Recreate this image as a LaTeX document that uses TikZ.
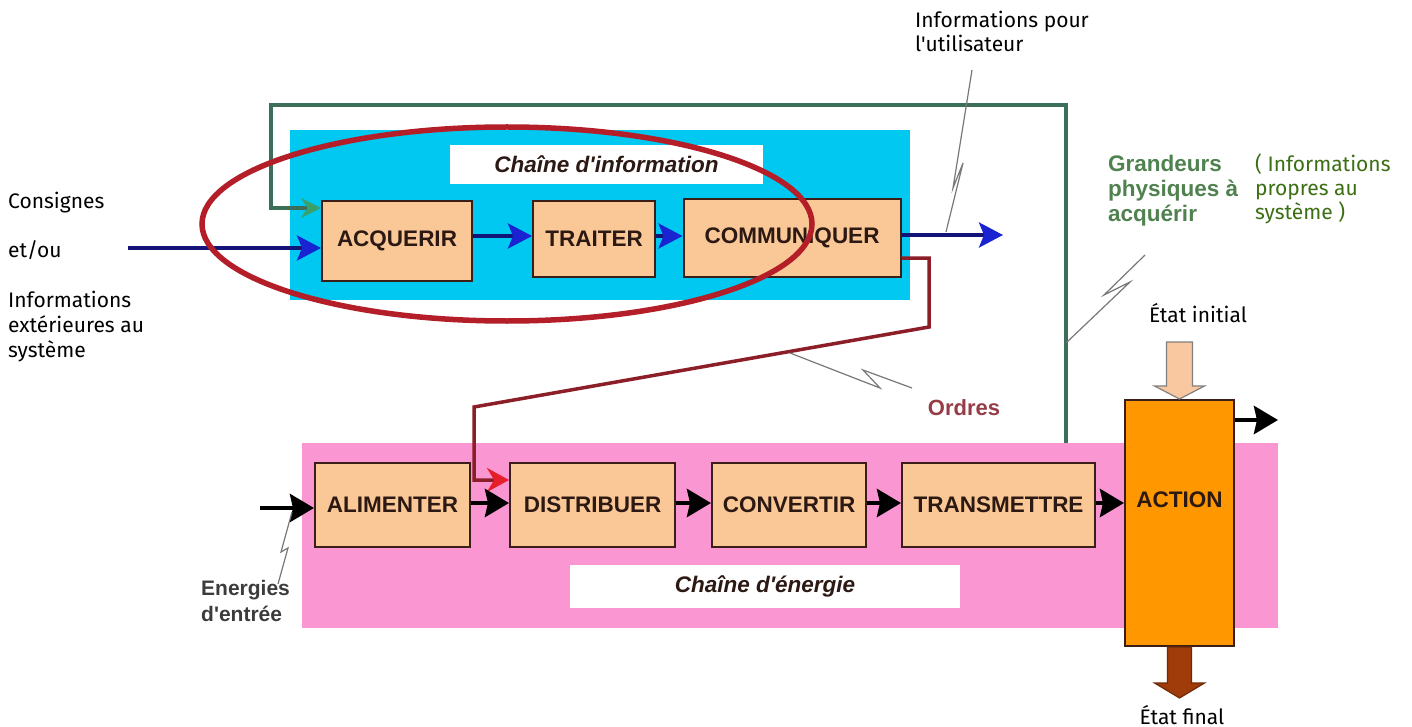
\documentclass[tikz,border=0pt]{standalone}
\usepackage{fontspec}
\setmainfont{Fira Sans}[Ligatures=TeXOff]
\newfontfamily\arb{Liberation Sans}
\usetikzlibrary{arrows.meta,calc}
\definecolor{cyanbg}{RGB}{0,200,240}
\definecolor{pinkbg}{RGB}{250,150,210}
\definecolor{peach}{RGB}{250,200,150}
\definecolor{actor}{RGB}{255,152,0}
\definecolor{boxline}{RGB}{60,30,25}
\definecolor{txtdark}{RGB}{45,25,20}
\definecolor{navy}{RGB}{20,20,120}
\definecolor{tipblue}{RGB}{25,35,210}
\definecolor{grnline}{RGB}{60,110,90}
\definecolor{grntip}{RGB}{60,160,110}
\definecolor{ellred}{RGB}{180,30,40}
\definecolor{ordred}{RGB}{140,30,40}
\definecolor{tipred}{RGB}{230,30,40}
\definecolor{boltgray}{RGB}{120,120,120}
\definecolor{grandg}{RGB}{80,130,80}
\definecolor{propg}{RGB}{60,110,20}
\definecolor{ordtxt}{RGB}{150,60,70}
\definecolor{enertxt}{RGB}{60,60,60}
\definecolor{inpeach}{RGB}{250,200,160}
\definecolor{finbrown}{RGB}{160,60,10}
\begin{document}
\begin{tikzpicture}[x=1pt,y=-1pt,
  fb/.style={draw=boxline, line width=2pt, fill=peach, text=txtdark,
    font=\arb\bfseries\fontsize{22.5}{26}\selectfont, inner sep=0pt},
  lbl/.style={fill=white, text=txtdark, inner sep=0pt,
    font=\arb\bfseries\itshape\fontsize{22.5}{26}\selectfont},
  annot/.style={font=\fontsize{21}{25}\selectfont, text=black, align=left, inner sep=0pt},
  blu/.style={draw=navy, line width=3.5pt, -{Stealth[length=24pt,width=25pt,inset=5pt,color=tipblue]}},
  blk/.style={draw=black, line width=4.5pt, -{Stealth[length=24pt,width=28pt,inset=3pt]}},
  grn/.style={draw=grnline, line width=3.5pt, -{Stealth[length=20pt,width=20pt,color=grntip]}},
  ordl/.style={draw=ordred, line width=3.5pt, -{Stealth[length=22pt,width=24pt,color=tipred]}},
  bolt/.style={draw=boltgray, line width=1.2pt},
  ell/.style={draw=ellred, line width=5.5pt}
]
\useasboundingbox (0,0) rectangle (1412,727);
\fill[white] (0,0) rectangle (1412,727);

% backgrounds
\node[fill=pinkbg, minimum width=976, minimum height=185, inner sep=0pt] (pink) at (790,535.5) {};
\node[fill=cyanbg, minimum width=620, minimum height=170, inner sep=0pt] (cyan) at (600,215) {};
\node[lbl, minimum width=313, minimum height=39] (cinfo) at (606.5,164.5) {Chaîne d'information};
\node[lbl, minimum width=390, minimum height=43] (cener) at (765,586.5) {Chaîne d'énergie};

% information chain boxes
\node[fb, minimum width=150, minimum height=80] (acq) at (397,241) {ACQUERIR};
\node[fb, minimum width=122, minimum height=75] (tra) at (594,239) {TRAITER};
\node[fb, minimum width=217, minimum height=77] (com) at (792,238) {COMMUNIQUER};

% energy chain boxes
\node[fb, minimum width=155, minimum height=84] (ali) at (392.5,505) {ALIMENTER};
\node[fb, minimum width=165, minimum height=84] (dis) at (592.5,505) {DISTRIBUER};
\node[fb, minimum width=154, minimum height=84] (con) at (789,505) {CONVERTIR};
\node[fb, minimum width=193, minimum height=84] (trm) at (998.5,505) {TRANSMETTRE};
\node[fb, fill=actor, minimum width=109, minimum height=246,
  label={[font=\arb\bfseries\fontsize{22.5}{26}\selectfont, text=txtdark, yshift=23pt]center:ACTION}] (act) at (1179.5,523) {};

% green feedback
\coordinate (gtr) at (1066,105);
\coordinate (gtl) at (271,105);
\coordinate (gbl) at (271,208);
\draw[grn] (pink.north -| gtr) -- (gtr) -- (gtl) -- (gbl) -- (acq.west |- gbl);

% blue information arrows
\coordinate (bin) at (128,248);
\coordinate (bout) at (1003,235);
\draw[blu] (bin) -- (acq.west |- bin);
\draw[blu] (acq.east |- 0,236) -- (tra.west |- 0,236);
\draw[blu] (tra.east |- 0,236) -- (com.west |- 0,236);
\draw[blu] (com.east |- bout) -- (bout);

% orders
\coordinate (r1) at (929,258);
\coordinate (r2) at (929,327);
\coordinate (r3) at (474,407);
\coordinate (r4) at (474,480);
\draw[ordl] (com.east |- r1) -- (r1) -- (r2) -- (r3) -- (r4) -- (dis.west |- r4);

% black energy arrows
\coordinate (ein) at (260,508);
\coordinate (aout) at (1278,420);
\draw[blk] (ein) -- (ali.west |- ein);
\draw[blk] (ali.east |- 0,503) -- (dis.west |- 0,503);
\draw[blk] (dis.east |- 0,503) -- (con.west |- 0,503);
\draw[blk] (con.east |- 0,503) -- (trm.west |- 0,503);
\draw[blk] (trm.east |- 0,503) -- (act.west |- 0,503);
\draw[blk] (act.east |- aout) -- (aout);

% state arrows
\draw[fill=inpeach, draw=gray, line width=1.2pt, shift={(act.north)}]
  (-13,-57) -- (13,-57) -- (13,-13) -- (25,-13) -- (0,0) -- (-25,-13) -- (-13,-13) -- cycle;
\draw[fill=finbrown, draw=finbrown!70!black, line width=1.2pt, shift={(act.south)}]
  (-12,0) -- (12,0) -- (12,36) -- (25,36) -- (0,51) -- (-25,36) -- (-12,36) -- cycle;

% red ellipse
\draw[ell] (507,224) ellipse [x radius=305, y radius=97];

% texts
\node[annot, anchor=base west] (cons) at (8,209) {Consignes};
\node[annot, anchor=base west] (etou) at (8,258) {et/ou};
\node[annot, anchor=south west, text depth=0pt] (iext) at (8,358) {Informations\\extérieures au\\système};
\node[annot, anchor=south west, text depth=0pt, font=\fontsize{21}{24}\selectfont] (iuser) at (915,52) {Informations pour\\l'utilisateur};
\node[annot, anchor=south west, text depth=0pt, text=propg, font=\fontsize{21}{24}\selectfont] (iprop) at (1255,220) {( Informations\\propres au\\système )};
\node[anchor=south west, text depth=0pt, align=left, inner sep=0pt, text=grandg, font=\arb\bfseries\fontsize{22.5}{25}\selectfont] (grand) at (1108,222) {Grandeurs\\physiques à\\acquérir};
\node[annot, anchor=base] (einit) at (1198,322) {État initial};
\node[annot, anchor=base] (efin) at (1182,724) {État final};
\node[anchor=south west, text depth=0pt, align=left, inner sep=0pt, text=enertxt, font=\arb\bfseries\fontsize{21}{26}\selectfont] (ener) at (201,622) {Energies\\d'entrée};
\node[anchor=base, inner sep=0pt, text=ordtxt, font=\arb\bfseries\fontsize{22}{24}\selectfont] (ord) at (964,415) {Ordres};

% lightning bolts
\draw[bolt] (972,70) -- (953,188) -- (963,163) -- (946,232);
\draw[bolt] (1145,255) -- (1104,295) -- (1130,282) -- (1066,343);
\draw[bolt] (790,353) -- (880,388) -- (863,370) -- (912,388);
\draw[bolt] (278,584) -- (288,548) -- (281,552) -- (292,512);
\end{tikzpicture}
\end{document}
